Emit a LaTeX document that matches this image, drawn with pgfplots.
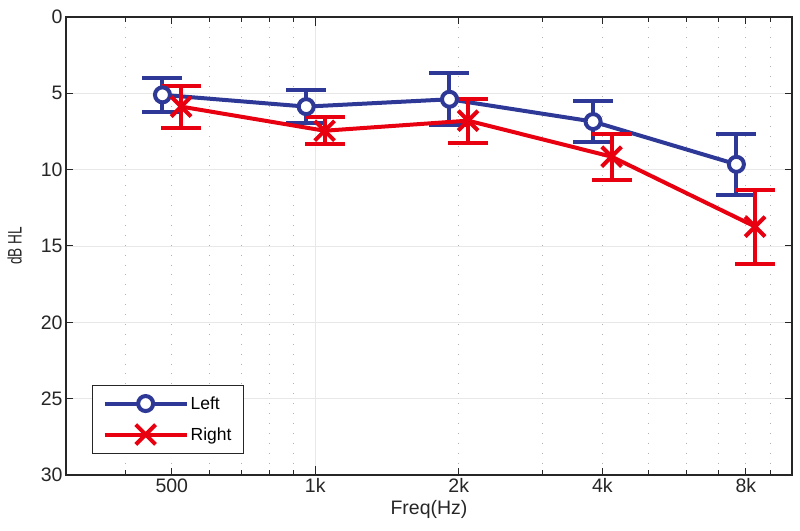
\documentclass[border=0pt]{standalone}
\usepackage{fontspec}
\setmainfont{Liberation Sans}
\usepackage{pgfplots}
\usepackage{pgfplotstable}
\pgfplotsset{compat=1.18}
\definecolor{mblue}{RGB}{46,56,150}
\definecolor{mred}{RGB}{232,0,16}
\definecolor{axgray}{RGB}{38,38,38}
\pgfplotstableread{
x y e
478 5.10 1.10
957 5.87 1.10
1912 5.39 1.70
3826 6.85 1.35
7645 9.65 2.00
}\leftdata
\pgfplotstableread{
x y e
523 5.87 1.37
1046 7.45 0.90
2092 6.79 1.45
4184 9.15 1.50
8368 13.73 2.43
}\rightdata
\begin{document}
\begin{tikzpicture}
\begin{axis}[
 scale only axis, width=726pt, height=458pt,
 xmode=log, xmin=300, xmax=10000,
 ymin=0, ymax=30, y dir=reverse,
 xtick={500,1000,2000,4000,8000}, xticklabels={500,1k,2k,4k,8k},
 minor xtick={400,500,600,700,800,900,2000,3000,4000,5000,6000,7000,8000,9000},
 ytick={0,5,...,30},
 ymajorgrids=true, xminorgrids=true,
 major grid style={line width=0.8pt, color=black!9},
 minor grid style={line width=0.9pt, color=black!30, dash pattern=on 0.9pt off 9pt},
 extra x ticks={1000}, extra x tick labels={},
 extra x tick style={grid=major, major tick length=9pt},
 axis line style={axgray, line width=1.3pt},
 tick style={axgray, line width=1pt},
 tick align=inside,
 major tick length=7pt, minor tick length=5pt,
 xtick pos=both, ytick pos=both,
 /pgf/number format/assume math mode=true,
 ticklabel style={font=\fontsize{19.5}{23}\selectfont, text=axgray},
 label style={font=\fontsize{19.5}{23}\selectfont, text=axgray},
 xlabel={Freq(Hz)}, ylabel={\scalebox{0.7}[1]{dB HL}},
 xlabel style={yshift=-1pt},
 ylabel style={yshift=12pt},
 legend style={at={(0.036,0.046)}, anchor=south west, draw=axgray, line width=1pt,
   font=\fontsize{17.5}{20}\selectfont, inner xsep=10pt, inner ysep=9pt, row sep=12pt,
   cells={anchor=west}},
 legend image code/.code={\draw[mark repeat=2,mark phase=2,#1] plot coordinates {(0pt,0pt) (41pt,0pt) (82pt,0pt)};},
]
\addplot[mblue, line width=4pt, mark=*, mark size=7.5pt, mark options={fill=white, draw=mblue, line width=4pt},
  error bars/.cd, y dir=both, y explicit,
  error bar style={line width=4pt, mblue},
  error mark options={rotate=90, mblue, line width=4pt, mark size=20pt}]
  table[x=x, y=y, y error=e] {\leftdata};
\addlegendentry{Left}
\addplot[mred, line width=4pt, mark=x, mark size=14pt, mark options={mred, line width=4pt},
  error bars/.cd, y dir=both, y explicit,
  error bar style={line width=4pt, mred},
  error mark options={rotate=90, mred, line width=4pt, mark size=20pt}]
  table[x=x, y=y, y error=e] {\rightdata};
\addlegendentry{Right}
\end{axis}
\path ([xshift=-66pt,yshift=-56pt]current axis.south west) rectangle ([xshift=8pt,yshift=17pt]current axis.north east);
\end{tikzpicture}
\end{document}
